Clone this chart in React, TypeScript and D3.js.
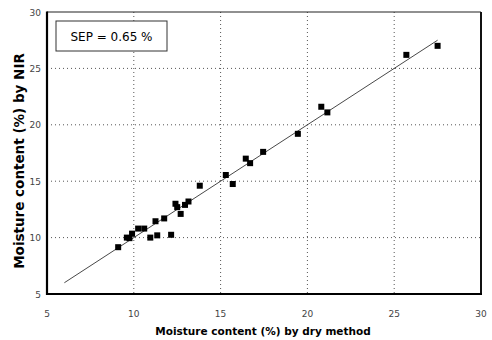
import { useEffect, useRef } from "react";
import * as d3 from "d3";

// reference (dry method) vs predicted (NIR) moisture, %
const dryMethod = [
  9.1, 9.6, 9.75, 9.9, 10.25, 10.6, 10.95, 11.25, 11.35, 11.75, 12.15, 12.4,
  12.5, 12.7, 12.95, 13.15, 13.8, 15.3, 15.7, 16.45, 16.7, 17.45, 19.45, 20.8,
  21.15, 25.7, 27.5,
];
const nir = [
  9.15, 10.0, 9.95, 10.35, 10.8, 10.8, 10.0, 11.45, 10.2, 11.7, 10.25, 13.0,
  12.7, 12.1, 12.9, 13.2, 14.6, 15.55, 14.75, 17.0, 16.6, 17.6, 19.2, 21.6,
  21.1, 26.2, 27.0,
];
const fitLine = [6, 27.5];
const ticks = [5, 10, 15, 20, 25, 30];
const gridTicks = [10, 15, 20, 25];
const sepLabel = "SEP = 0.65 %";

const W = 492;
const H = 340;

export default function App() {
  const ref = useRef<SVGSVGElement | null>(null);

  useEffect(() => {
    if (!ref.current) return;
    const svg = d3.select(ref.current);
    svg.selectAll("*").remove();

    const m = { t: 12, r: 11, b: 46, l: 47 };
    const w = W - m.l - m.r;
    const h = H - m.t - m.b;

    const x = d3.scaleLinear().domain([5, 30]).range([0, w]);
    const y = d3.scaleLinear().domain([5, 30]).range([h, 0]);

    const g = svg.append("g").attr("transform", `translate(${m.l},${m.t})`);
    const font = "'DejaVu Sans', Arial, sans-serif";

    // ── Grid ────────────────────────────────────────────────────────────────
    g.selectAll("line.gx")
      .data(gridTicks)
      .enter()
      .append("line")
      .attr("x1", (d) => x(d))
      .attr("x2", (d) => x(d))
      .attr("y1", 0)
      .attr("y2", h)
      .attr("stroke", "#555")
      .attr("stroke-width", 1)
      .attr("stroke-dasharray", "1,3");

    g.selectAll("line.gy")
      .data(gridTicks)
      .enter()
      .append("line")
      .attr("x1", 0)
      .attr("x2", w)
      .attr("y1", (d) => y(d))
      .attr("y2", (d) => y(d))
      .attr("stroke", "#555")
      .attr("stroke-width", 1)
      .attr("stroke-dasharray", "1,3");

    // ── Frame ───────────────────────────────────────────────────────────────
    g.append("line")
      .attr("x1", 0).attr("x2", w).attr("y1", 0).attr("y2", 0)
      .attr("stroke", "#222").attr("stroke-width", 1.2);
    g.append("line")
      .attr("x1", w).attr("x2", w).attr("y1", 0).attr("y2", h)
      .attr("stroke", "#111").attr("stroke-width", 2);
    g.append("line")
      .attr("x1", 0).attr("x2", 0).attr("y1", -0.5).attr("y2", h + 1)
      .attr("stroke", "#000").attr("stroke-width", 2.2);
    g.append("line")
      .attr("x1", -1).attr("x2", w + 1).attr("y1", h).attr("y2", h)
      .attr("stroke", "#000").attr("stroke-width", 2.2);

    // ── Fit line ────────────────────────────────────────────────────────────
    g.append("line")
      .attr("x1", x(fitLine[0]))
      .attr("y1", y(fitLine[0]))
      .attr("x2", x(fitLine[1]))
      .attr("y2", y(fitLine[1]))
      .attr("stroke", "#333")
      .attr("stroke-width", 0.9);

    // ── Points ──────────────────────────────────────────────────────────────
    const s = 6;
    g.selectAll("rect.pt")
      .data(dryMethod)
      .enter()
      .append("rect")
      .attr("x", (d) => x(d) - s / 2)
      .attr("y", (_, i) => y(nir[i]) - s / 2)
      .attr("width", s)
      .attr("height", s)
      .attr("fill", "#000");

    // ── Tick labels ─────────────────────────────────────────────────────────
    g.selectAll("text.xt")
      .data(ticks)
      .enter()
      .append("text")
      .attr("x", (d) => x(d))
      .attr("y", h + 23)
      .attr("text-anchor", "middle")
      .attr("font-family", font)
      .attr("font-size", 9)
      .attr("fill", "#444")
      .text((d) => d);

    g.selectAll("text.yt")
      .data(ticks)
      .enter()
      .append("text")
      .attr("x", -6)
      .attr("y", (d) => y(d) + 3.5)
      .attr("text-anchor", "end")
      .attr("font-family", font)
      .attr("font-size", 9)
      .attr("fill", "#444")
      .text((d) => d);

    // ── Axis titles ─────────────────────────────────────────────────────────
    svg.append("text")
      .attr("x", 263)
      .attr("y", 335)
      .attr("text-anchor", "middle")
      .attr("font-family", font)
      .attr("font-weight", "bold")
      .attr("font-size", 10.5)
      .attr("fill", "#000")
      .text("Moisture content (%) by dry method");

    svg.append("text")
      .attr("transform", `translate(24,161) rotate(-90)`)
      .attr("text-anchor", "middle")
      .attr("font-family", font)
      .attr("font-weight", "bold")
      .attr("font-size", 13.5)
      .attr("fill", "#000")
      .text("Moisture content (%) by NIR");

    // ── SEP box ─────────────────────────────────────────────────────────────
    svg.append("rect")
      .attr("x", 56)
      .attr("y", 21)
      .attr("width", 111)
      .attr("height", 30)
      .attr("fill", "#fff")
      .attr("stroke", "#333")
      .attr("stroke-width", 1);
    svg.append("text")
      .attr("x", 111.5)
      .attr("y", 40.5)
      .attr("text-anchor", "middle")
      .attr("font-family", font)
      .attr("font-size", 12)
      .attr("fill", "#000")
      .text(sepLabel);
  }, []);

  return (
    <svg
      ref={ref}
      width={W}
      height={H}
      style={{ position: "absolute", left: 0, top: 0, background: "#fff" }}
    />
  );
}
